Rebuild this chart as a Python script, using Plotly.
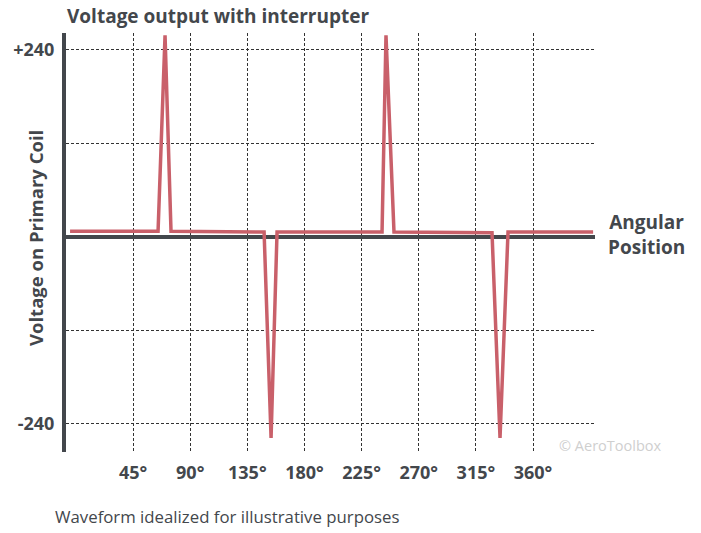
import plotly.graph_objects as go

# Data (angular position in degrees, voltage in volts)
angle_deg = [-4.6, 64.7, 70.2, 74.9, 148.2, 153.7, 158.4, 241.1, 244.2, 250.5,
             327.7, 334.0, 340.3, 407.3]
voltage = [7, 7, 258, 7, 6, -258, 6, 6, 258, 6, 5, -258, 6, 6]

x_tick_vals = [45, 90, 135, 180, 225, 270, 315, 360]
x_tick_text = ["45°", "90°", "135°", "180°", "225°", "270°", "315°", "360°"]
y_tick_vals = [240, 120, -120, -240]
y_tick_text = ["+240", "", "", "-240"]

DARK = "#43474c"
RED = "#c9606a"
FONT = "Open Sans"

fig = go.Figure()
fig.add_trace(go.Scatter(
    x=angle_deg, y=voltage, mode="lines",
    line=dict(color=RED, width=3.5),
    hoverinfo="skip", showlegend=False,
))

fig.update_layout(
    width=701, height=533,
    margin=dict(l=66, r=106, t=33, b=81),
    paper_bgcolor="white", plot_bgcolor="white",
    title=dict(text="<b>Voltage output with interrupter</b>",
               x=67 / 701, xanchor="left", xref="container",
               y=1 - 16 / 533, yanchor="middle", yref="container",
               font=dict(family=FONT, size=19, color=DARK)),
    font=dict(family=FONT, color=DARK),
)

fig.update_xaxes(
    range=[-7.8, 408.8],
    tickvals=x_tick_vals, ticktext=["<b>%s</b>" % t for t in x_tick_text],
    tickfont=dict(family=FONT, size=18, color=DARK),
    ticks="", ticklen=0, ticklabelstandoff=8,
    showgrid=True, gridcolor="#333333", gridwidth=1, griddash="3px,2px",
    zeroline=False, showline=False,
)
fig.update_yaxes(
    range=[-276, 261],
    tickvals=y_tick_vals, ticktext=["<b>%s</b>" % t if t else "" for t in y_tick_text],
    tickfont=dict(family=FONT, size=18, color=DARK),
    ticks="", ticklen=0, ticklabelstandoff=4,
    showgrid=True, gridcolor="#333333", gridwidth=1, griddash="3px,2px",
    zeroline=True, zerolinecolor=DARK, zerolinewidth=4,
    showline=True, linecolor=DARK, linewidth=4,
)

fig.add_annotation(text="<b>Voltage on Primary Coil</b>", textangle=-90,
                   xref="paper", yref="paper", x=(35 - 66) / 529, y=(452 - 238) / 419,
                   xanchor="center", yanchor="middle", showarrow=False,
                   font=dict(family=FONT, size=18.5, color=DARK))
fig.add_annotation(text="<b>Angular<br>Position</b>",
                   xref="paper", yref="paper", x=(646 - 66) / 529, y=(452 - 234.5) / 419,
                   xanchor="center", yanchor="middle", showarrow=False,
                   font=dict(family=FONT, size=19, color=DARK))
fig.add_annotation(text="Waveform idealized for illustrative purposes",
                   xref="paper", yref="paper", x=(53 - 66) / 529, y=(452 - 516) / 419,
                   xanchor="left", yanchor="middle", showarrow=False,
                   font=dict(family=FONT, size=16.8, color=DARK))
fig.add_annotation(text="© AeroToolbox",
                   xref="paper", yref="paper", x=(610 - 66) / 529, y=(452 - 445) / 419,
                   xanchor="center", yanchor="middle", showarrow=False,
                   font=dict(family=FONT, size=14.5, color="#cfcfcf"))

fig.write_html("out.html", config={"displayModeBar": False},
               post_script="document.body.style.margin='0px';")
